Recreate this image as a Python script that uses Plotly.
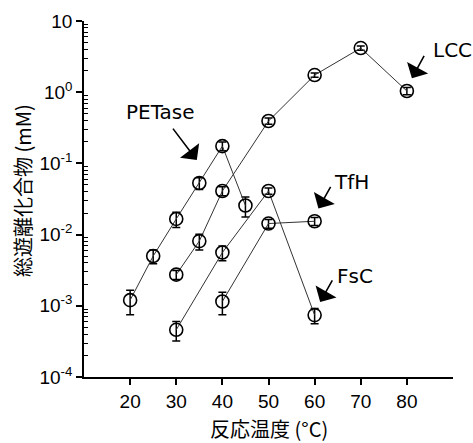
import plotly.graph_objects as go
import numpy as np

# --- data ---
petase_x = [20, 25, 30, 35, 40, 45]
petase_y = [0.0012, 0.005, 0.0166, 0.053, 0.175, 0.0256]
petase_err = [0.00045, 0.0011, 0.004, 0.01, 0.025, 0.008]

lcc_x = [30, 35, 40, 50, 60, 70, 80]
lcc_y = [0.00274, 0.0081, 0.041, 0.394, 1.74, 4.17, 1.04]
lcc_err = [0.0004, 0.002, 0.006, 0.04, 0.12, 0.3, 0.12]

fsc_x = [30, 40, 50, 60]
fsc_y = [0.00046, 0.0056, 0.041, 0.00074]
fsc_err = [0.00014, 0.0013, 0.004, 0.00018]

tfh_x = [40, 50, 60]
tfh_y = [0.00115, 0.0143, 0.0154]
tfh_err = [0.0004, 0.002, 0.002]

x_ticks = [20, 30, 40, 50, 60, 70, 80]
y_tickvals = [1e-4, 1e-3, 1e-2, 1e-1, 1e0, 1e1]
y_ticktext = ["10<sup>-4</sup>", "10<sup>-3</sup>", "10<sup>-2</sup>",
              "10<sup>-1</sup>", "10<sup>0</sup>", "10"]

# labels: (text, text_x, text_logy, xanchor, tip_x, tip_logy, ax, ay)
labels = [
    ("PETase", 26.6, -0.275, "center", 34.46, -0.954, -25, -33),
    ("LCC", 85.3, 0.592, "left", 81.09, 0.195, 13, -24),
    ("TfH", 68.0, -1.256, "center", 60.83, -1.633, 13, -23),
    ("FsC", 68.75, -2.575, "center", 61.2, -2.946, 13, -23),
]

fig = go.Figure()
for xs, ys, es in [(petase_x, petase_y, petase_err), (lcc_x, lcc_y, lcc_err),
                   (fsc_x, fsc_y, fsc_err), (tfh_x, tfh_y, tfh_err)]:
    fig.add_trace(go.Scatter(
        x=xs, y=ys, mode="lines+markers",
        line=dict(color="#333333", width=1),
        marker=dict(symbol="circle-open", size=13, color="black",
                    line=dict(width=1.6, color="black")),
        error_y=dict(type="data", array=es, visible=True, color="black",
                     thickness=1.5, width=4),
        showlegend=False, cliponaxis=False,
    ))

minor_vals = [m * 10.0 ** k for k in range(-4, 1) for m in range(2, 10)]

fig.update_layout(
    width=473, height=443,
    margin=dict(l=84, r=20, t=21, b=66),
    paper_bgcolor="white", plot_bgcolor="white",
    font=dict(family="Liberation Sans, Arial, sans-serif", size=19, color="black"),
    xaxis=dict(range=[10, 90], tickvals=x_ticks, ticks="outside", ticklen=6,
               tickwidth=1.5, tickcolor="black", showline=True, linecolor="black",
               linewidth=1.5, showgrid=False, zeroline=False, ticklabelstandoff=0,
               tickfont=dict(size=19), automargin=False),
    yaxis=dict(type="log", range=[-4, 1], tickvals=y_tickvals, ticktext=y_ticktext,
               ticks="outside", ticklen=6, tickwidth=1.5, tickcolor="black",
               showline=True, linecolor="black", linewidth=1.5, showgrid=False,
               zeroline=False, tickfont=dict(size=19), automargin=False,
               minor=dict(tickvals=minor_vals, ticks="inside", ticklen=4,
                          tickwidth=1, tickcolor="black", showgrid=False)),
)

for text, tx, ty, xa, px, py, ax, ay in labels:
    fig.add_annotation(x=tx, y=ty, text=text, showarrow=False,
                       xanchor=xa, yanchor="middle",
                       font=dict(family="DejaVu Sans", size=20, color="black"))
    fig.add_annotation(x=px, y=py, text="", showarrow=True, ax=ax, ay=ay,
                       arrowhead=1, arrowsize=2.5, arrowwidth=1.6,
                       arrowcolor="black")

fig.add_annotation(xref="paper", yref="paper", x=0.501, y=-0.146,
                   text="反応温度 (°C)", showarrow=False,
                   xanchor="center", yanchor="middle",
                   font=dict(family="Noto Sans CJK JP", size=20, color="black"))
fig.add_annotation(xref="paper", yref="paper", x=-0.1653, y=0.5225,
                   text="総遊離化合物 (mM)", showarrow=False, textangle=-90,
                   xanchor="center", yanchor="middle",
                   font=dict(family="Noto Sans CJK JP", size=20, color="black"))

fig.write_html("out.html", config={"displayModeBar": False},
               post_script="document.body.style.margin='0';document.body.style.padding='0';")
